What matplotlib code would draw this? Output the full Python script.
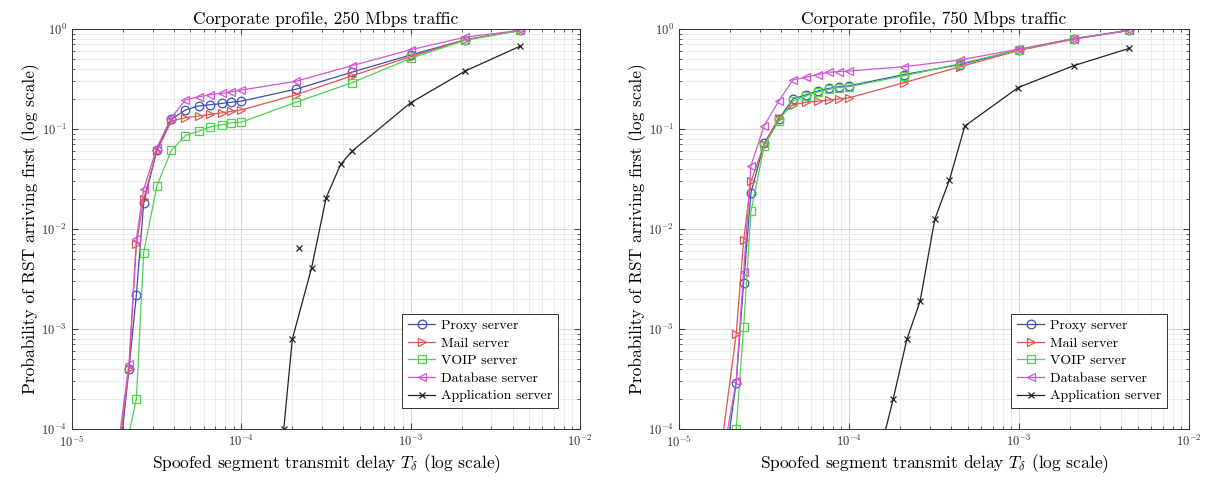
import matplotlib
matplotlib.use('Agg')
import matplotlib.pyplot as plt
from matplotlib.ticker import LogLocator, NullFormatter

plt.rcParams['font.family'] = 'serif'
plt.rcParams['font.serif'] = ['cmr10', 'DejaVu Serif']
plt.rcParams['mathtext.fontset'] = 'cm'
plt.rcParams['axes.formatter.use_mathtext'] = True

# ---------------- data ----------------
delay = [1.8e-5, 2.17e-5, 2.4e-5, 2.65e-5, 3.17e-5, 3.86e-5, 4.68e-5, 5.6e-5, 6.55e-5,
         7.65e-5, 8.7e-5, 1.0e-4, 2.1e-4, 4.5e-4, 1.0e-3, 2.1e-3, 4.45e-3]

proxy_250 = [2e-5, 4.0e-4, 2.2e-3, 1.8e-2, 6.2e-2, 1.25e-1, 1.55e-1, 1.7e-1, 1.75e-1,
             1.8e-1, 1.85e-1, 1.9e-1, 2.5e-1, 3.7e-1, 5.5e-1, 7.8e-1, 9.7e-1]
mail_250 = [3e-5, 4.0e-4, 7.0e-3, 2.0e-2, 6.0e-2, 1.2e-1, 1.3e-1, 1.35e-1, 1.4e-1,
            1.45e-1, 1.5e-1, 1.55e-1, 2.2e-1, 3.4e-1, 5.3e-1, 7.8e-1, 9.7e-1]
voip_250 = [2e-5, 9.0e-5, 2.0e-4, 5.8e-3, 2.7e-2, 6.1e-2, 8.6e-2, 9.5e-2, 1.05e-1,
            1.1e-1, 1.15e-1, 1.17e-1, 1.85e-1, 2.9e-1, 5.1e-1, 7.7e-1, 9.7e-1]
db_250 = [4e-5, 4.5e-4, 8.0e-3, 2.5e-2, 6.5e-2, 1.3e-1, 1.95e-1, 2.1e-1, 2.2e-1,
          2.27e-1, 2.35e-1, 2.45e-1, 3.0e-1, 4.3e-1, 6.2e-1, 8.3e-1, 9.7e-1]
app_250_delay = [1.78e-4, 2.0e-4, 2.6e-4, 3.17e-4, 3.86e-4, 4.5e-4, 1.0e-3, 2.1e-3, 4.45e-3]
app_250 = [1.0e-4, 7.9e-4, 4.1e-3, 2.06e-2, 4.43e-2, 6.0e-2, 1.83e-1, 3.8e-1, 6.76e-1]
app_250_extra_delay = [2.19e-4]
app_250_extra = [6.4e-3]

proxy_750 = [3e-5, 2.9e-4, 2.9e-3, 2.3e-2, 7.2e-2, 1.25e-1, 2.0e-1, 2.2e-1, 2.4e-1,
             2.55e-1, 2.65e-1, 2.7e-1, 3.5e-1, 4.4e-1, 6.2e-1, 8.0e-1, 9.7e-1]
mail_750 = [8e-5, 8.9e-4, 7.7e-3, 3.0e-2, 7.0e-2, 1.3e-1, 1.75e-1, 1.85e-1, 1.9e-1,
            1.95e-1, 2.0e-1, 2.05e-1, 2.9e-1, 4.2e-1, 6.1e-1, 7.9e-1, 9.7e-1]
voip_750 = [1e-5, 1.0e-4, 1.04e-3, 1.5e-2, 6.8e-2, 1.2e-1, 1.9e-1, 2.15e-1, 2.35e-1,
            2.5e-1, 2.6e-1, 2.65e-1, 3.4e-1, 4.5e-1, 6.2e-1, 8.0e-1, 9.7e-1]
db_750 = [5e-5, 3.0e-4, 3.7e-3, 4.3e-2, 1.08e-1, 1.9e-1, 3.1e-1, 3.3e-1, 3.5e-1,
          3.7e-1, 3.75e-1, 3.8e-1, 4.2e-1, 4.9e-1, 6.3e-1, 8.0e-1, 9.7e-1]
app_750_delay = [1.5e-4, 1.82e-4, 2.19e-4, 2.62e-4, 3.2e-4, 3.9e-4, 4.8e-4, 9.9e-4, 2.1e-3, 4.45e-3]
app_750 = [5.3e-5, 2.0e-4, 7.9e-4, 1.9e-3, 1.26e-2, 3.1e-2, 1.07e-1, 2.6e-1, 4.3e-1, 6.4e-1]

labels = ['Proxy server', 'Mail server', 'VOIP server', 'Database server', 'Application server']
titles = ['Corporate profile, 250 Mbps traffic', 'Corporate profile, 750 Mbps traffic']

colors = ['#3b4fb8', '#e0554f', '#4fd24f', '#d256d2', '#222222']
markers = ['o', '>', 's', '<', 'x']

W, H = 1210, 482
fig = plt.figure(figsize=(W / 100, H / 100), dpi=100)
top, bottom = 29, 429
ax1 = fig.add_axes([72 / W, 1 - bottom / H, (580 - 72) / W, (bottom - top) / H])
ax2 = fig.add_axes([679 / W, 1 - bottom / H, (1189 - 679) / W, (bottom - top) / H])

panels = [
    (ax1, [proxy_250, mail_250, voip_250, db_250], app_250_delay, app_250,
     app_250_extra_delay, app_250_extra),
    (ax2, [proxy_750, mail_750, voip_750, db_750], app_750_delay, app_750, [], []),
]

for (ax, series, adel, aval, edel, evals), title in zip(panels, titles):
    for vals, c, m, lab in zip(series, colors[:4], markers[:4], labels[:4]):
        ax.plot(delay, vals, color=c, marker=m, markersize=6.2, markerfacecolor='none',
                markeredgewidth=0.9, linewidth=0.9, label=lab)
    ax.plot(adel, aval, color=colors[4], marker='x', markersize=5, markeredgewidth=0.9,
            linewidth=0.9, label=labels[4])
    if edel:
        ax.plot(edel, evals, color=colors[4], marker='x', markersize=5,
                markeredgewidth=0.9, linestyle='none')
    ax.set_xscale('log')
    ax.set_yscale('log')
    ax.set_xlim(1e-5, 1e-2)
    ax.set_ylim(1e-4, 1)
    ax.xaxis.set_major_locator(LogLocator(base=10, numticks=10))
    ax.yaxis.set_major_locator(LogLocator(base=10, numticks=10))
    ax.xaxis.set_minor_locator(LogLocator(base=10, subs=range(2, 10), numticks=20))
    ax.yaxis.set_minor_locator(LogLocator(base=10, subs=range(2, 10), numticks=20))
    ax.xaxis.set_minor_formatter(NullFormatter())
    ax.yaxis.set_minor_formatter(NullFormatter())
    ax.grid(True, which='major', color='#cfcfcf', linewidth=0.6)
    ax.grid(True, which='minor', color='#e4e4e4', linewidth=0.5)
    ax.set_axisbelow(True)
    ax.tick_params(which='both', direction='in', top=True, right=True, labelsize=9,
                   color='#444444', labelcolor='#333333')
    ax.tick_params(which='major', length=4)
    ax.tick_params(which='minor', length=2)
    for s in ax.spines.values():
        s.set_linewidth(0.7)
        s.set_color('#333333')
    ax.set_title(title, fontsize=12.5, pad=3)
    ax.set_xlabel(r'Spoofed segment transmit delay $T_\delta$ (log scale)', fontsize=12.5,
                  labelpad=2)
    ax.set_ylabel('Probability of RST arriving first (log scale)', fontsize=12.5, labelpad=1)
    leg = ax.legend(loc='lower right', bbox_to_anchor=(0.97, 0.035), fontsize=10,
                    fancybox=False, framealpha=1, edgecolor='#333333', handlelength=2.0,
                    handletextpad=0.4, borderpad=0.4, labelspacing=0.35)
    leg.get_frame().set_linewidth(0.7)

fig.savefig('out.png', dpi=100)
